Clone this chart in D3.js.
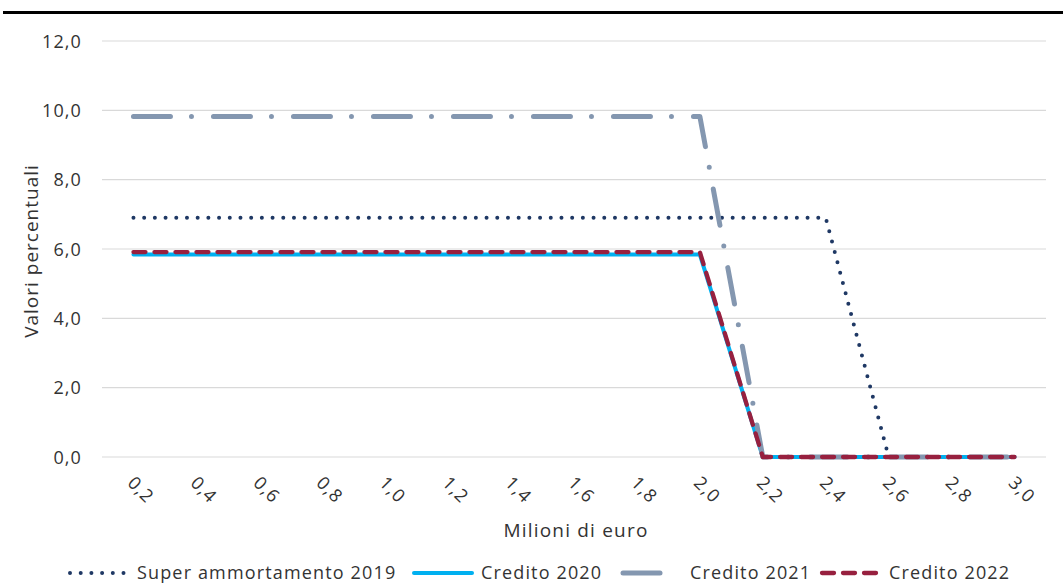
<!DOCTYPE html>
<html>
<head>
<meta charset="utf-8">
<script src="https://cdn.jsdelivr.net/npm/d3@7"></script>
<style>
  html, body { margin: 0; padding: 0; background: #fff; }
  svg { display: block; }
  text { font-family: "Open Sans", "Liberation Sans", sans-serif; }
</style>
</head>
<body>
<svg id="chart" width="1063" height="583"></svg>
<script>
// ---- data ----
const categories = ["0,2","0,4","0,6","0,8","1,0","1,2","1,4","1,6","1,8","2,0","2,2","2,4","2,6","2,8","3,0"];
const superAmmortamento2019 = [6.9,6.9,6.9,6.9,6.9,6.9,6.9,6.9,6.9,6.9,6.9,6.9,0,0,0];
const credito2020 = [5.84,5.84,5.84,5.84,5.84,5.84,5.84,5.84,5.84,5.84,0,0,0,0,0];
const credito2021 = [9.82,9.82,9.82,9.82,9.82,9.82,9.82,9.82,9.82,9.82,0,0,0,0,0];
const credito2022 = [5.91,5.91,5.91,5.91,5.91,5.91,5.91,5.91,5.91,5.91,0,0,0,0,0];
const yTicks = [0,2,4,6,8,10,12];
const seriesNames = ["Super ammortamento 2019","Credito 2020","Credito 2021","Credito 2022"];

// ---- styles ----
const styles = [
  { color: "#1f3864", width: 4, dash: "0,10.7", cap: "round" },
  { color: "#00b0f0", width: 4, dash: null, cap: "round" },
  { color: "#8497b0", width: 5, dash: "37,21,0,22", cap: "round" },
  { color: "#97203f", width: 4.3, dash: "12,9", cap: "round" }
];
const seriesData = [superAmmortamento2019, credito2020, credito2021, credito2022];

const svg = d3.select("#chart");
const plotLeft = 102, plotRight = 1046, plotTop = 41, plotBottom = 457;

const x = d3.scaleBand().domain(categories).range([plotLeft, plotRight]).padding(0);
const y = d3.scaleLinear().domain([0, 12]).range([plotBottom, plotTop]);

// top black rule
svg.append("line").attr("x1", 3).attr("x2", 1063).attr("y1", 12.5).attr("y2", 12.5)
  .attr("stroke", "#000").attr("stroke-width", 3);

// gridlines
svg.append("g").selectAll("line").data(yTicks).join("line")
  .attr("x1", plotLeft).attr("x2", plotRight)
  .attr("y1", d => y(d)).attr("y2", d => y(d))
  .attr("stroke", "#d9d9d9").attr("stroke-width", 1.2);

const fmt = d => d.toFixed(1).replace(".", ",");
const tickColor = "#333333";

// y axis labels
const yAxis = d3.axisLeft(y).tickValues(yTicks).tickFormat(fmt).tickSize(0).tickPadding(20);
const gy = svg.append("g").attr("transform", `translate(${plotLeft},0)`).call(yAxis);
gy.select(".domain").remove();
gy.selectAll("text").attr("font-size", 18).attr("fill", tickColor)
  .attr("letter-spacing", 1.1).attr("font-family", '"Open Sans", sans-serif').attr("dy", "0.35em");

// x axis labels (rotated)
const gx = svg.append("g");
gx.selectAll("text").data(categories).join("text")
  .attr("transform", d => `translate(${x(d) + x.bandwidth()/2 - 7},484) rotate(45)`)
  .attr("text-anchor", "start")
  .attr("font-size", 18).attr("letter-spacing", 1.1).attr("fill", tickColor)
  .text(d => d);

// axis titles
svg.append("text").attr("x", 576).attr("y", 537).attr("text-anchor", "middle")
  .attr("font-size", 19).attr("letter-spacing", 1.2).attr("fill", tickColor).text("Milioni di euro");
svg.append("text").attr("transform", "translate(38,251) rotate(-90)").attr("text-anchor", "middle")
  .attr("font-size", 19).attr("letter-spacing", 1).attr("fill", tickColor).text("Valori percentuali");

// lines
const line = d3.line().x((d, i) => x(categories[i]) + x.bandwidth()/2).y(d => y(d));
seriesData.forEach((s, k) => {
  const st = styles[k];
  svg.append("path").datum(s).attr("d", line)
    .attr("fill", "none").attr("stroke", st.color).attr("stroke-width", st.width)
    .attr("stroke-linecap", st.cap).attr("stroke-linejoin", "round")
    .attr("stroke-dasharray", st.dash);
});

// legend
const legendItems = [
  { x1: 70, x2: 125, tx: 137 },
  { x1: 414, x2: 472, tx: 481 },
  { x1: 623, x2: 680, tx: 690 },
  { x1: 822, x2: 877, tx: 889 }
];
const ly = 573;
legendItems.forEach((it, k) => {
  const st = styles[k];
  svg.append("line").attr("x1", it.x1).attr("x2", it.x2).attr("y1", ly).attr("y2", ly)
    .attr("stroke", st.color).attr("stroke-width", st.width)
    .attr("stroke-linecap", st.cap).attr("stroke-dasharray", st.dash);
  svg.append("text").attr("x", it.tx).attr("y", ly).attr("dy", "0.35em")
    .attr("font-size", 18).attr("letter-spacing", 1.15).attr("fill", tickColor)
    .text(seriesNames[k]);
});
</script>
</body>
</html>
